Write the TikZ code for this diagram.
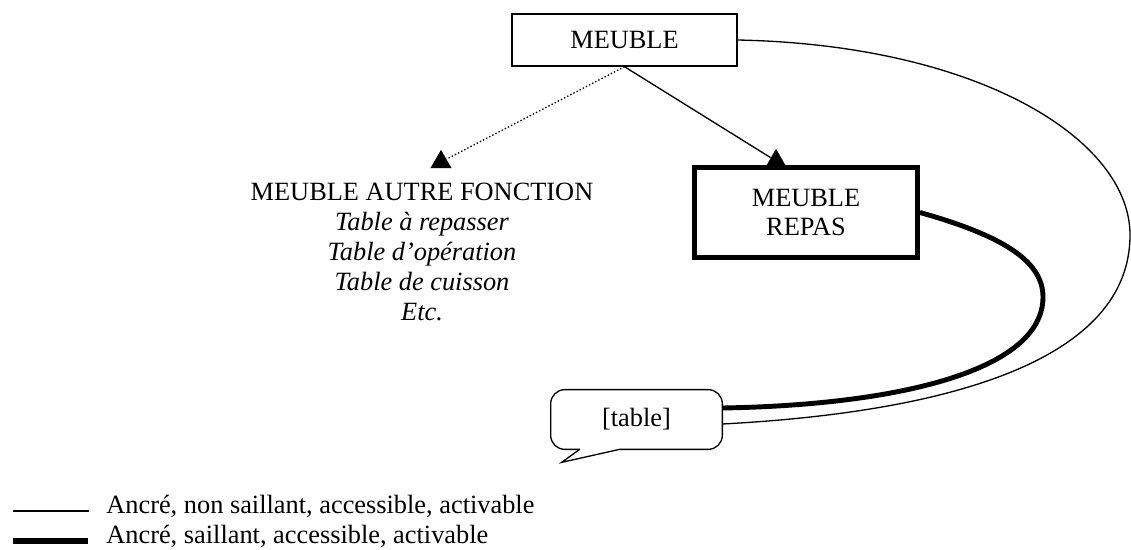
\documentclass[tikz,border=0pt]{standalone}
\usepackage{fontspec}
\setmainfont{Liberation Serif}
\usepackage{tikz}
\usetikzlibrary{positioning, calc, shapes.geometric}
\tikzset{
  boite/.style={draw, line width=0.8pt, align=center, inner sep=0pt},
  boitegrasse/.style={boite, line width=2.8pt},
  pointe/.style={regular polygon, regular polygon sides=3, fill=black,
    minimum size=0.485cm, inner sep=0pt},
  fin/.style={line width=0.75pt},
  gras/.style={line width=2.8pt},
  legende/.style={anchor=base west, inner sep=0pt},
}

\begin{document}
\begin{tikzpicture}[x=0.02cm, y=-0.02cm, font=\fontsize{15}{17}\selectfont]
  \useasboundingbox (0,0) rectangle (1131,550);

  % boites
  \node[boite, minimum width=4.5cm, minimum height=1.04cm] (meuble) at (624.5,40) {MEUBLE};
  \node[boitegrasse, minimum width=4.46cm, minimum height=1.8cm] (repas) at (806,212.5) {MEUBLE\\REPAS};
  \node[align=center, anchor=north, inner sep=0pt] (autre) at (422,183)
    {MEUBLE AUTRE FONCTION\\\textit{Table à repasser}\\\textit{Table d’opération}\\\textit{Table de cuisson}\\\textit{Etc.}};
  \node[minimum width=3.42cm, minimum height=1.18cm, inner sep=0pt] (bulle) at (636.5,419.5) {[table]};

  % pointes
  \node[pointe] (pointeA) at (441,162) {};
  \node[pointe] (pointeB) at (776,161) {};

  % liens
  \draw[fin, dash pattern=on 0.8pt off 1.2pt] (meuble.south) -- (pointeA);
  \draw[fin] (meuble.south) -- (pointeB);
  \draw[fin] (meuble.east) .. controls (980,45) and (1130,140) .. (1130,235)
    .. controls (1130,360) and (950,412) .. ([yshift=-0.09cm]bulle.east);
  \draw[gras] (repas.east) .. controls (1000,235) and (1043,260) .. (1043,297)
    .. controls (1043,370) and (900,405) .. ([yshift=0.23cm]bulle.east);

  % bulle
  \draw[fin, rounded corners=8pt, line cap=round] ($(bulle.south west)+(69,0)$) -- (bulle.south east)
    -- (bulle.north east) -- (bulle.north west) -- (bulle.south west) -- ($(bulle.south west)+(29,0)$);
  \draw[fin, line cap=round] ($(bulle.south west)+(29,0)$) -- ($(bulle.south west)+(11,13)$)
    -- ($(bulle.south west)+(69,0)$);

  % legende
  \node[legende] (legA) at (106,513) {Ancré, non saillant, accessible, activable};
  \node[legende] (legB) at (106,543) {Ancré, saillant, accessible, activable};
  \draw[fin] ($(legA.base west)+(-93,-2)$) -- ++(76,0);
  \draw[line width=3.4pt] ($(legB.base west)+(-93,-2)$) -- ++(75,0);
\end{tikzpicture}
\end{document}
